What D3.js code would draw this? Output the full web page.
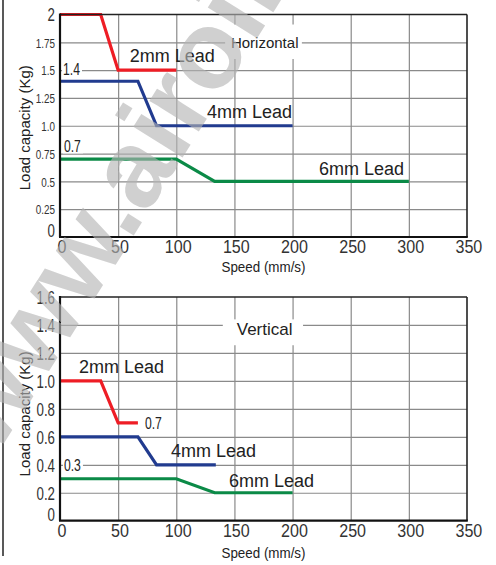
<!DOCTYPE html>
<html><head><meta charset="utf-8">
<script src="https://cdn.jsdelivr.net/npm/d3@7"></script>
<style>
html,body{margin:0;padding:0;background:#fff;}
svg{display:block;}
</style></head>
<body>
<svg id="c" width="496" height="565"></svg>
<script>
// ---------- data ----------
const xTicks = [0, 50, 100, 150, 200, 250, 300, 350];
const xTickLabels = ["0", "50", "100", "150", "200", "250", "300", "350"];

const hYTicks = [0, 0.25, 0.5, 0.75, 1.0, 1.25, 1.5, 1.75, 2];
const hYTickLabels = ["0", "0.25", "0.5", "0.75", "1.0", "1.25", "1.5", "1.75", "2"];
const vYTicks = [0, 0.2, 0.4, 0.6, 0.8, 1.0, 1.2, 1.4, 1.6];
const vYTickLabels = ["0", "0.2", "0.4", "0.6", "0.8", "1.0", "1.2", "1.4", "1.6"];

const seriesNames = ["2mm Lead", "4mm Lead", "6mm Lead"];

// Horizontal mounting: speed (mm/s) vs load (kg)
const h2Speed = [0, 35, 50, 100];
const h2Load  = [2, 2, 1.5, 1.5];
const h4Speed = [0, 67, 83, 200];
const h4Load  = [1.4, 1.4, 1.0, 1.0];
const h6Speed = [0, 100, 133, 300];
const h6Load  = [0.7, 0.7, 0.5, 0.5];

// Vertical mounting
const v2Speed = [0, 35, 50, 67];
const v2Load  = [1.0, 1.0, 0.7, 0.7];
const v4Speed = [0, 67, 83, 134];
const v4Load  = [0.6, 0.6, 0.4, 0.4];
const v6Speed = [0, 100, 133, 200];
const v6Load  = [0.3, 0.3, 0.2, 0.2];

// annotations anchored in data units (speed, load)
const hNotes = [
  {t: "2mm Lead", s: 60, l: 1.57, k: "lead"},
  {t: "1.4", s: 2.6, l: 1.456, k: "val"},
  {t: "4mm Lead", s: 126.4, l: 1.07, k: "lead"},
  {t: "0.7", s: 3.4, l: 0.764, k: "val"},
  {t: "6mm Lead", s: 222.7, l: 0.557, k: "lead"}
];
const vNotes = [
  {t: "2mm Lead", s: 16.3, l: 1.059, k: "lead"},
  {t: "0.7", s: 73, l: 0.654, k: "val"},
  {t: "4mm Lead", s: 95.4, l: 0.454, k: "lead"},
  {t: "0.3", s: 3.4, l: 0.356, k: "val"},
  {t: "6mm Lead", s: 145.3, l: 0.243, k: "lead"}
];

// ---------- drawing ----------
const colors = ["#ee1d25", "#213b8f", "#0b8a47"];
const FONT = "Liberation Sans, Arial, sans-serif";
const NARROW = 0.76;
const svg = d3.select("#c");
const left = 60, right = 467;
const x = d3.scaleLinear().domain([0, 350]).range([left, right]);

svg.append("line").attr("x1", 3).attr("x2", 3).attr("y1", 0).attr("y2", 556)
  .attr("stroke", "#222").attr("stroke-width", 1.5);

function panel(cfg) {
  const y = d3.scaleLinear().domain([0, cfg.yMax]).range([cfg.bottom, cfg.top]);
  const g = svg.append("g");
  const gridG = g.append("g");
  gridG.append("g").attr("transform", `translate(0,${cfg.bottom})`)
    .call(d3.axisBottom(x).tickValues(xTicks.slice(1, -1)).tickSize(-(cfg.bottom - cfg.top)).tickFormat(""))
    .call(a => a.select(".domain").remove())
    .selectAll("line").attr("stroke", "#8a8a8a").attr("stroke-width", 1.2);
  gridG.append("g").attr("transform", `translate(${left},0)`)
    .call(d3.axisLeft(y).tickValues(cfg.yTicks.slice(1, -1)).tickSize(-(right - left)).tickFormat(""))
    .call(a => a.select(".domain").remove())
    .selectAll("line").attr("stroke", "#8a8a8a").attr("stroke-width", 1.2);

  const tb = cfg.titleBox;
  g.append("rect").attr("x", x(tb.s0)).attr("width", x(tb.s1) - x(tb.s0))
    .attr("y", y(tb.l1)).attr("height", y(tb.l0) - y(tb.l1)).attr("fill", "#fff");
  return {g, y};
}

const pTop = panel({top: 14.5, bottom: 237, yMax: 2, yTicks: hYTicks,
  titleBox: {s0: 142, s1: 208, l0: 1.6, l1: 1.91}});
const pBot = panel({top: 297, bottom: 520.7, yMax: 1.6, yTicks: vYTicks,
  titleBox: {s0: 140, s1: 209, l0: 1.255, l1: 1.44}});

// watermark
svg.append("text").text("www.airoil.com")
  .attr("transform", "translate(-4,456) rotate(-58)")
  .attr("font-family", FONT)
  .attr("font-weight", "bold").attr("font-size", 110)
  .attr("fill", "#b4b4b4").attr("opacity", 0.62);

function finish(P, cfg) {
  const {g, y} = P;
  const line = d3.line().x(d => x(d[0])).y(d => y(d[1]));
  cfg.series.forEach((s, i) => {
    g.append("path").datum(d3.zip(s[0], s[1]))
      .attr("d", line).attr("fill", "none")
      .attr("stroke", colors[i]).attr("stroke-width", 3.2)
      .attr("stroke-linejoin", "miter");
  });
  g.append("line").attr("x1", left).attr("x2", right).attr("y1", cfg.top).attr("y2", cfg.top)
    .attr("stroke", "#222").attr("stroke-width", 1.6);
  g.append("line").attr("x1", right).attr("x2", right).attr("y1", cfg.top).attr("y2", cfg.bottom)
    .attr("stroke", "#222").attr("stroke-width", 1.6);
  g.append("line").attr("x1", left).attr("x2", left).attr("y1", cfg.top - 1).attr("y2", cfg.bottom)
    .attr("stroke", "#111").attr("stroke-width", 2.2);
  g.append("line").attr("x1", left - 1).attr("x2", right + 0.8).attr("y1", cfg.bottom).attr("y2", cfg.bottom)
    .attr("stroke", "#111").attr("stroke-width", 2.2);

  const xa = g.append("g").attr("transform", `translate(0,${cfg.bottom})`)
    .call(d3.axisBottom(x).tickValues(xTicks).tickFormat((d, i) => xTickLabels[i]).tickSize(0).tickPadding(4));
  xa.select(".domain").remove();
  xa.selectAll("text").attr("font-family", FONT)
    .attr("font-size", 17.5).attr("fill", "#333").attr("dx", 1.5)
    .attr("transform", "scale(0.92,1)");

  const ya = g.append("g").attr("transform", `translate(${left},0)`)
    .call(d3.axisLeft(y).tickValues(cfg.yTicks).tickFormat((d, i) => cfg.yLabels[i]).tickSize(0).tickPadding(5));
  ya.select(".domain").remove();
  ya.selectAll("text").attr("font-family", FONT)
    .attr("fill", "#333")
    .attr("font-size", (d, i) => cfg.ySize(d, i))
    .attr("x", -5 / NARROW)
    .attr("transform", `scale(${NARROW},1)`)
    .attr("dy", (d, i) => i === 0 ? "-0.02em" : "0.36em");

  g.append("text").text("Speed (mm/s)")
    .attr("x", x(175)).attr("y", cfg.bottom + cfg.xTitleGap).attr("text-anchor", "middle")
    .attr("font-family", FONT).attr("font-size", 14.5).attr("fill", "#222")
    .attr("textLength", 84).attr("lengthAdjust", "spacingAndGlyphs");
  g.append("text").text("Load capacity (Kg)")
    .attr("transform", `translate(30,${(cfg.top + cfg.bottom) / 2 + cfg.yTitleShift}) rotate(-90)`)
    .attr("text-anchor", "middle")
    .attr("font-family", FONT).attr("font-size", 15).attr("fill", "#222");

  cfg.notes.forEach(n => {
    const px = x(n.s), py = y(n.l);
    if (n.k === "lead") {
      g.append("text").text(n.t).attr("x", px).attr("y", py)
        .attr("font-family", FONT).attr("font-size", 18).attr("fill", "#222");
    } else {
      const t = g.append("text").text(n.t)
        .attr("transform", `translate(${px},${py}) scale(${NARROW},1)`)
        .attr("font-family", FONT).attr("font-size", 16).attr("fill", "#222");
      if (n.s < 10) {
        const bb = t.node().getBBox();
        g.insert("rect", () => t.node())
          .attr("x", px + bb.x * NARROW - 1).attr("y", py + bb.y + 2)
          .attr("width", bb.width * NARROW + 3).attr("height", bb.height - 4).attr("fill", "#fff");
      }
    }
  });
  g.append("text").text(cfg.title).attr("x", x(cfg.titleAt[0])).attr("y", y(cfg.titleAt[1]))
    .attr("font-family", FONT)
    .attr("font-size", cfg.titleSize).attr("fill", "#222");
}

finish(pTop, {top: 14.5, bottom: 237, yTicks: hYTicks, yLabels: hYTickLabels,
  ySize: (d, i) => (i === 0 || i === hYTicks.length - 1) ? 17.5 : 13,
  xTitleGap: 35, yTitleShift: 2,
  series: [[h2Speed, h2Load], [h4Speed, h4Load], [h6Speed, h6Load]],
  notes: hNotes, title: "Horizontal", titleAt: [147, 1.70], titleSize: 15});

finish(pBot, {top: 297, bottom: 520.7, yTicks: vYTicks, yLabels: vYTickLabels,
  ySize: (d, i) => 17.5,
  xTitleGap: 37, yTitleShift: 5,
  series: [[v2Speed, v2Load], [v4Speed, v4Load], [v6Speed, v6Load]],
  notes: vNotes, title: "Vertical", titleAt: [152, 1.328], titleSize: 17});
</script>
</body></html>
